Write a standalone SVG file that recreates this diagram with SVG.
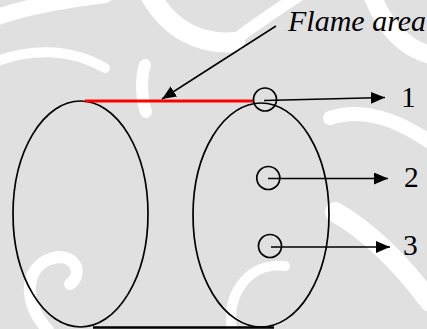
<svg xmlns="http://www.w3.org/2000/svg" width="427" height="329" viewBox="0 0 427 329">
  <defs>
    <marker id="ah" markerUnits="userSpaceOnUse" markerWidth="15" markerHeight="12" refX="14" refY="6" orient="auto">
      <path d="M0,0 L14,6 L0,12 z" fill="#000"/>
    </marker>
    <style>
      .outline { fill: none; stroke: #000; stroke-width: 1.7; }
      .probe { fill: none; stroke: #000; stroke-width: 1.7; }
      .conn { fill: none; stroke: #000; stroke-width: 1.5; marker-end: url(#ah); }
      .wm { fill: none; stroke: #fff; stroke-linecap: round; }
    </style>
  </defs>

  <!-- background watermark -->
  <g id="background">
    <rect x="0" y="0" width="427" height="329" fill="#e0e0e0"/>
    <path class="wm" stroke-width="16" d="M-5,18 C30,5 70,0 105,-5"/>
    <path class="wm" stroke-width="10" d="M-5,62 C30,48 70,48 105,68"/>
    <path class="wm" stroke-width="20" d="M150,-5 C170,30 200,45 235,42"/>
    <path class="wm" stroke-width="12" d="M235,40 C258,22 280,8 300,-5"/>
    <path class="wm" stroke-width="12" d="M145,65 C140,80 142,100 146,112"/>
    <path class="wm" stroke-width="18" d="M372,-5 C385,28 405,48 430,55"/>
    <path class="wm" stroke-width="14" d="M330,118 C360,108 395,118 430,142"/>
    <path class="wm" stroke-width="20" d="M335,212 C370,232 400,262 430,302"/>
    <path class="wm" stroke-width="12" d="M48,330 C20,300 25,262 58,257 C78,257 82,275 70,284"/>
    <path class="wm" stroke-width="10" d="M232,330 C226,292 250,262 285,266"/>
  </g>

  <g id="left-ellipse">
    <ellipse class="outline" cx="80.5" cy="214" rx="67.5" ry="113"/>
  </g>
  <g id="right-ellipse">
    <ellipse class="outline" cx="261" cy="215" rx="68" ry="112"/>
  </g>
  <g id="flame-line">
    <line x1="85" y1="101" x2="254" y2="101" stroke="#ff0000" stroke-width="3"/>
  </g>
  <g id="base-line">
    <line x1="93" y1="327.5" x2="274" y2="327.5" stroke="#000" stroke-width="2.5"/>
  </g>
  <g id="probe-1">
    <circle class="probe" cx="265" cy="99.5" r="11.5"/>
  </g>
  <g id="probe-2">
    <circle class="probe" cx="268.3" cy="178" r="11.5"/>
  </g>
  <g id="probe-3">
    <circle class="probe" cx="270" cy="246" r="11.5"/>
  </g>
  <g id="label-flame">
    <text x="288" y="31" font-family="'Liberation Serif', 'Times New Roman', Times, 'DejaVu Serif', serif" font-style="italic" font-size="30" fill="#000">Flame area</text>
  </g>
  <g id="label-1"><text x="401" y="107" font-family="'Liberation Serif', 'Times New Roman', Times, 'DejaVu Serif', serif" font-size="29.5" fill="#000">1</text></g>
  <g id="label-2"><text x="404" y="187" font-family="'Liberation Serif', 'Times New Roman', Times, 'DejaVu Serif', serif" font-size="29.5" fill="#000">2</text></g>
  <g id="label-3"><text x="403" y="255" font-family="'Liberation Serif', 'Times New Roman', Times, 'DejaVu Serif', serif" font-size="29.5" fill="#000">3</text></g>

  <g id="connectors">
    <line class="conn" x1="276" y1="26" x2="162" y2="99"/>
    <line class="conn" x1="264" y1="100.5" x2="385" y2="97.5"/>
    <line class="conn" x1="268" y1="178.5" x2="388" y2="178.5"/>
    <line class="conn" x1="271" y1="247" x2="390" y2="247"/>
  </g>
</svg>
